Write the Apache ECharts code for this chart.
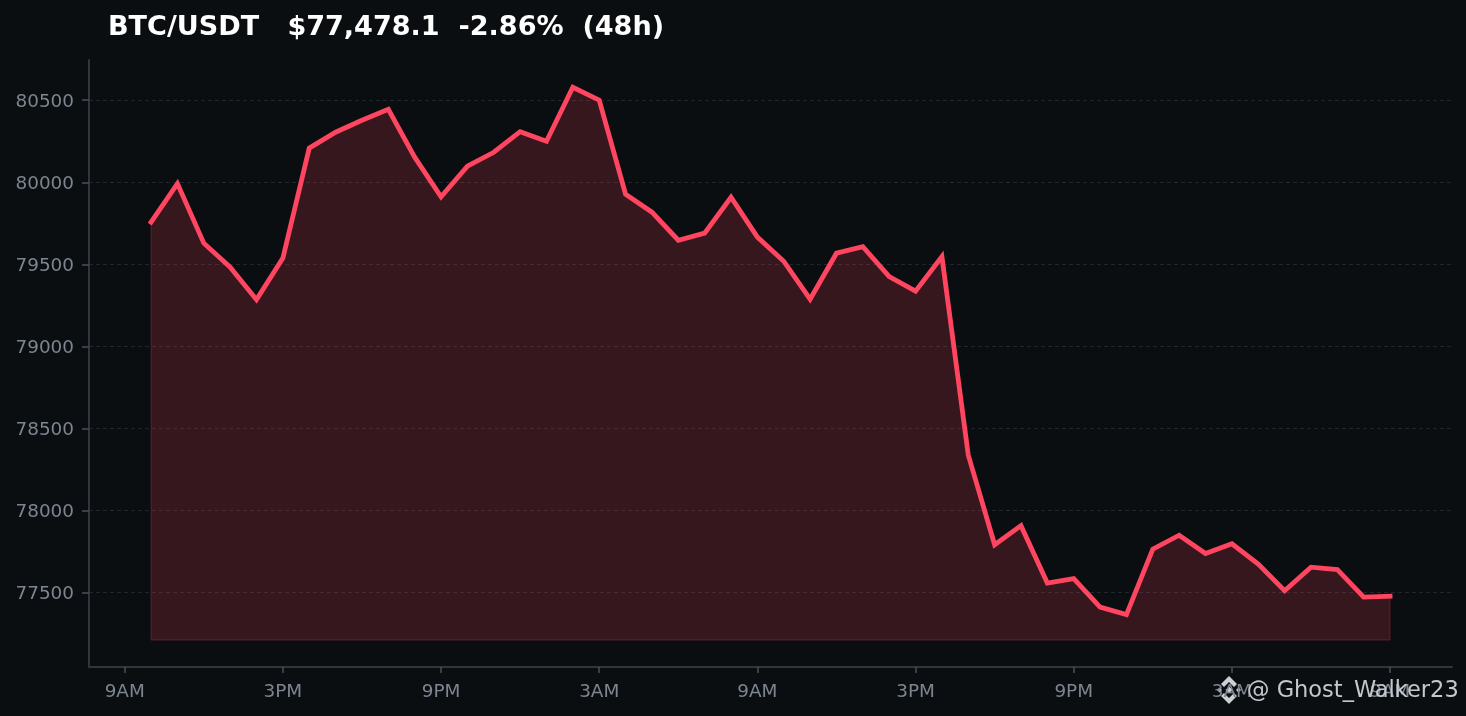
<!DOCTYPE html>
<html><head><meta charset="utf-8">
<style>html,body{margin:0;padding:0;background:#0a0e11}#c{width:1466px;height:716px}</style>
<script src="https://cdn.jsdelivr.net/npm/echarts@6/dist/echarts.min.js"></script></head>
<body><div id="c"></div>
<script>
const titleText = 'BTC/USDT   $77,478.1  -2.86%  (48h)';
const watermark = '@ Ghost_Walker23';
const prices = [79757,79992,79629,79483,79285,79538,80208,80305,80378,80445,80153,79912,80098,80183,80308,80250,80579,80500,79927,79818,79647,79690,79909,79666,79519,79288,79568,79608,79425,79337,79547,78338,77792,77908,77558,77585,77412,77366,77765,77850,77738,77798,77674,77512,77655,77640,77473,77478];
const hours = [1,2,3,4,5,6,7,8,9,10,11,12,13,14,15,16,17,18,19,20,21,22,23,24,25,26,27,28,29,30,31,32,33,34,35,36,37,38,39,40,41,42,43,44,45,46,47,48];
const xTickValues = [0,6,12,18,24,30,36,42,48];
const xTickLabels = ['9AM','3PM','9PM','3AM','9AM','3PM','9PM','3AM','9AM'];
const yTicks = [77500,78000,78500,79000,79500,80000,80500];
const baseValue = 77211;

const chart = echarts.init(document.getElementById('c'), null, {renderer:'canvas'});
const font = '"DejaVu Sans"';
const axisCol = '#30363d', tickCol = '#4a5058', labelCol = '#7d8590', iconCol = '#cdd1d5';
const lastH = hours[hours.length-1], lastP = prices[prices.length-1];
const poly = pts => ({type:'polygon',shape:{points:pts},style:{fill:iconCol}});
chart.setOption({
  animation:false,
  backgroundColor:'#0a0e11',
  title:{text:titleText,left:108,top:14,padding:0,textStyle:{color:'#ffffff',fontFamily:font,fontWeight:'bold',fontSize:27.05}},
  grid:{left:89,top:60,width:1363,height:607,backgroundColor:'#0b0e11',show:true,borderWidth:0},
  xAxis:{type:'value',min:-1.355,max:50.35,
    axisLine:{onZero:false,lineStyle:{color:axisCol,width:2}},
    axisTick:{customValues:xTickValues,length:6,lineStyle:{color:tickCol,width:1.5}},
    axisLabel:{customValues:xTickValues,margin:16,color:labelCol,fontFamily:font,fontSize:18.4,
      formatter:v=>xTickLabels[xTickValues.indexOf(v)]||''},
    splitLine:{show:false}},
  yAxis:{type:'value',min:77047,max:80745,
    axisLine:{show:true,onZero:false,lineStyle:{color:axisCol,width:2}},
    axisTick:{show:true,customValues:yTicks,length:7,lineStyle:{color:tickCol,width:1.5}},
    axisLabel:{customValues:yTicks,margin:15,verticalAlign:'top',lineHeight:4,color:labelCol,fontFamily:font,fontSize:18.4,formatter:v=>String(v)},
    splitLine:{show:true,lineStyle:{color:'#21262d',type:[4,3],width:1}}},
  series:[
    {type:'line',data:hours.map((h,i)=>[h,prices[i]]),showSymbol:false,symbol:'none',z:3,
      lineStyle:{color:'#ff4560',width:4.8,cap:'square',join:'miter'},
      areaStyle:{color:'rgba(255,69,96,0.18)',opacity:1,origin:baseValue}},
    {type:'line',data:[[hours[0],prices[0]],[hours[0],baseValue],[lastH,baseValue],[lastH,lastP]],
      showSymbol:false,symbol:'none',z:2,silent:true,
      lineStyle:{color:'rgba(255,69,96,0.18)',width:1.5}}
  ],
  graphic:[
    {type:'text',left:1247,top:680,z:100,style:{text:watermark,fill:'#c3c8cd',font:'22.5px "DejaVu Sans"'}},
    {type:'group',x:1229,y:690,z:100,children:[
      poly([[0,-14],[8,-6],[5,-3],[0,-8],[-5,-3],[-8,-6]]),
      poly([[0,14],[8,6],[5,3],[0,8],[-5,3],[-8,6]]),
      poly([[0,-3.5],[3.5,0],[0,3.5],[-3.5,0]]),
      poly([[-9.5,-2.5],[-7,0],[-9.5,2.5],[-12,0]]),
      poly([[9.5,-2.5],[12,0],[9.5,2.5],[7,0]])
    ]}
  ]
});
</script></body></html>
